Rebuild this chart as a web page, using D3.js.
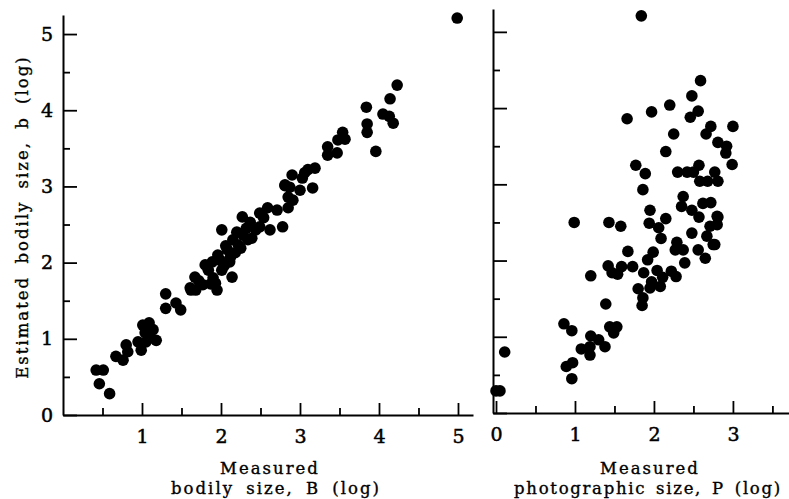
<!DOCTYPE html>
<html>
<head>
<meta charset="utf-8">
<script src="https://cdn.jsdelivr.net/npm/d3@7"></script>
<style>
  body { margin: 0; background: #fff; }
  text { font-family: "DejaVu Serif", "Liberation Serif", serif; fill: #000; }
</style>
</head>
<body>
<div id="d3-container"></div>
<script>
/**
 * CONSTANTS AND GLOBALS
 * */
const width = 789,
  height = 499;

// left panel: measured bodily size B vs estimated b
const bodilyB = [0.42, 0.51, 0.46, 0.59, 0.67, 0.76, 0.80, 0.82, 0.95, 0.99, 1.01, 1.09, 1.14, 1.04, 1.11, 1.18, 1.05, 1.30, 1.30, 1.43, 1.49,
  1.61, 1.67, 1.77, 1.84, 1.90, 1.95, 2.01, 1.99, 2.14, 2.08, 2.18, 2.15, 2.01, 2.20, 2.28, 2.27, 2.37, 2.34, 2.49, 2.49, 2.59, 2.71, 2.62,
  2.78, 2.85, 2.91, 2.81, 2.90, 3.00, 3.06, 2.85, 2.87, 2.81, 3.03, 3.10, 3.19, 3.16, 3.35, 3.35, 3.47, 3.48, 3.54, 3.57, 3.84, 3.85, 3.85,
  3.96, 4.05, 4.13, 4.18, 4.14, 4.23, 4.99, 1.80, 1.89, 1.96, 2.06, 2.11, 2.22, 2.32, 2.39, 2.44, 2.54, 1.62, 1.68, 1.72, 1.93, 2.04, 2.12,
  2.25, 1.87];
const bodilyEst = [0.59, 0.59, 0.41, 0.28, 0.77, 0.72, 0.92, 0.83, 0.96, 0.85, 1.18, 1.21, 1.12, 1.08, 1.01, 0.98, 0.96, 1.59, 1.40, 1.47, 1.38,
  1.67, 1.81, 1.71, 1.90, 1.80, 1.64, 1.90, 2.03, 1.81, 2.17, 2.13, 2.30, 2.43, 2.40, 2.36, 2.60, 2.53, 2.30, 2.47, 2.65, 2.72, 2.69, 2.43,
  2.47, 2.72, 2.82, 3.02, 3.15, 2.95, 3.18, 2.86, 2.99, 3.01, 3.11, 3.22, 3.24, 2.98, 3.52, 3.41, 3.44, 3.61, 3.71, 3.62, 4.04, 3.82, 3.71,
  3.46, 3.95, 3.92, 3.83, 4.15, 4.33, 5.21, 1.97, 2.01, 2.10, 2.22, 2.01, 2.23, 2.45, 2.32, 2.43, 2.59, 1.64, 1.64, 1.76, 1.73, 1.96, 2.07,
  2.19, 1.72];

// right panel: measured photographic size P vs estimated b
const photoP = [1.84, 2.59, 2.48, 2.56, 2.46, 2.20, 1.97, 1.66, 2.72, 2.66, 3.00, 2.25, 2.81, 2.92, 2.91, 2.15, 2.99, 1.77, 1.89, 2.30, 2.42,
  2.57, 2.50, 2.58, 2.68, 2.77, 2.81, 1.86, 2.37, 2.35, 2.62, 2.72, 2.48, 2.57, 1.95, 2.15, 2.81, 0.99, 1.43, 1.58, 1.94, 2.06, 2.09, 2.48,
  2.71, 2.67, 2.77, 2.29, 2.27, 2.37, 1.99, 1.92, 1.67, 2.56, 2.65, 2.75, 2.80, 2.80, 2.39, 1.20, 1.42, 1.47, 1.59, 1.54, 1.73, 1.87, 2.04,
  2.11, 2.22, 2.28, 1.97, 1.95, 2.08, 1.80, 1.86, 1.85, 1.39, 0.86, 0.96, 1.20, 1.30, 1.38, 1.08, 1.19, 1.19, 1.44, 1.53, 1.49, 0.89, 0.97,
  0.96, 0.11, 0.05, 0.00];
const photoEst = [5.21, 4.36, 4.16, 3.96, 3.88, 4.04, 3.95, 3.86, 3.76, 3.66, 3.76, 3.66, 3.55, 3.50, 3.41, 3.43, 3.26, 3.25, 3.14, 3.16, 3.16,
  3.25, 3.16, 3.04, 3.04, 3.16, 3.04, 2.93, 2.84, 2.71, 2.75, 2.76, 2.66, 2.57, 2.66, 2.55, 2.57, 2.50, 2.50, 2.45, 2.49, 2.43, 2.29, 2.36,
  2.45, 2.32, 2.21, 2.24, 2.14, 2.14, 2.11, 2.01, 2.12, 2.14, 2.03, 2.21, 2.47, 2.58, 1.97, 1.80, 1.93, 1.84, 1.92, 1.82, 1.92, 1.84, 1.87,
  1.78, 1.86, 1.79, 1.72, 1.64, 1.66, 1.63, 1.51, 1.41, 1.43, 1.17, 1.08, 1.01, 0.96, 0.87, 0.84, 0.87, 0.76, 1.13, 1.13, 1.05, 0.61, 0.66,
  0.45, 0.80, 0.29, 0.29];

// ticks
const yMajor = [0, 1, 2, 3, 4, 5];
const yMinor = [0.5, 1.5, 2.5, 3.5, 4.5];
const xMajorLeft = [1, 2, 3, 4, 5];
const xMinorLeft = [0.5, 1.5, 2.5, 3.5, 4.5];
const xMajorRight = [0, 1, 2, 3];
const xMinorRight = [0.5, 1.5, 2.5, 3.5];

const dotR = 5.8;

/**
 * SCALES
 * */
const xLeft = d3.scaleLinear().domain([0, 5.19]).range([63, 473]);
const yLeft = d3.scaleLinear().domain([0, 5.25]).range([415, 15]);
const xRight = d3.scaleLinear().domain([-0.038, 3.71]).range([493, 789]);
const yRight = d3.scaleLinear().domain([0, 5.3]).range([413, 9]);

const svg = d3.select("#d3-container")
  .append("svg")
  .attr("width", width)
  .attr("height", height);

// helper that draws one panel's axes
function drawAxes(x, y, opts) {
  const g = svg.append("g");

  // y axis (ticks point inward)
  const yAx = g.append("g").attr("transform", `translate(${x.range()[0]},0)`);
  yAx.call(d3.axisLeft(y).tickValues(yMajor).tickSize(-14).tickSizeOuter(0)
    .tickPadding(10).tickFormat(opts.yLabels ? d3.format("d") : ""));
  yAx.append("g").call(d3.axisLeft(y).tickValues(yMinor).tickSize(-7).tickFormat(""))
    .select(".domain").remove();

  // x axis
  const xAx = g.append("g").attr("transform", `translate(0,${y.range()[0]})`);
  xAx.call(d3.axisBottom(x).tickValues(opts.xMajor).tickSize(-12).tickSizeOuter(0)
    .tickPadding(15).tickFormat(d3.format("d")));
  xAx.append("g").call(d3.axisBottom(x).tickValues(opts.xMinor).tickSize(-7).tickFormat(""))
    .select(".domain").remove();

  g.selectAll(".domain").attr("stroke", "#000").attr("stroke-width", 2);
  g.selectAll(".tick line").attr("stroke", "#000").attr("stroke-width", 1.8);
  g.selectAll(".tick text")
    .attr("font-size", 19)
    .attr("font-family", "DejaVu Serif")
    .attr("fill", "#000")
    .attr("stroke", "#000")
    .attr("stroke-width", 0.5);
}

drawAxes(xLeft, yLeft, { yLabels: true, xMajor: xMajorLeft, xMinor: xMinorLeft });
drawAxes(xRight, yRight, { yLabels: false, xMajor: xMajorRight, xMinor: xMinorRight });

/**
 * POINTS
 * */
svg.append("g")
  .selectAll("circle")
  .data(d3.zip(bodilyB, bodilyEst))
  .join("circle")
  .attr("cx", d => xLeft(d[0]))
  .attr("cy", d => yLeft(d[1]))
  .attr("r", dotR)
  .attr("fill", "#000");

svg.append("g")
  .selectAll("circle")
  .data(d3.zip(photoP, photoEst))
  .join("circle")
  .attr("cx", d => xRight(d[0]))
  .attr("cy", d => yRight(d[1]))
  .attr("r", dotR)
  .attr("fill", "#000");

/**
 * AXIS TITLES
 * */
const titles = svg.append("g")
  .attr("font-size", 16.5)
  .attr("letter-spacing", 2)
  .attr("word-spacing", 5)
  .attr("stroke", "#000")
  .attr("stroke-width", 0.35)
  .attr("text-anchor", "middle");

titles.append("text")
  .attr("transform", "translate(28,217) rotate(-90)")
  .text("Estimated bodily size, b (log)");

titles.append("text").attr("x", 270).attr("y", 474).text("Measured");
titles.append("text").attr("x", 276).attr("y", 494).text("bodily size, B (log)");
titles.append("text").attr("x", 650).attr("y", 474).text("Measured");
titles.append("text").attr("x", 648).attr("y", 494)
  .attr("letter-spacing", 1.7)
  .attr("word-spacing", 3)
  .text("photographic size, P (log)");
</script>
</body>
</html>
